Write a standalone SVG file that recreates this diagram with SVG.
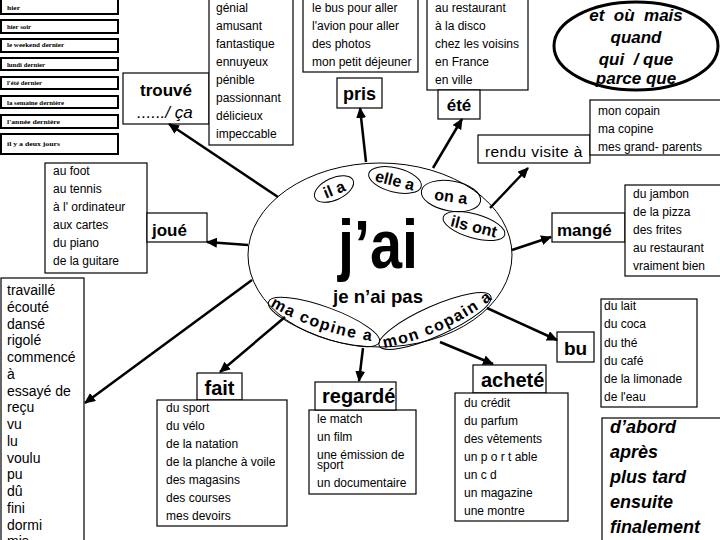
<svg xmlns="http://www.w3.org/2000/svg" width="720" height="540" viewBox="0 0 720 540">
<defs>
<marker id="ah" markerUnits="userSpaceOnUse" markerWidth="12" markerHeight="10" refX="10" refY="5" orient="auto">
<path d="M0,0 L11,5 L0,10 Z" fill="#000"/>
</marker>
<style>
.box{fill:#fff;stroke:#000;stroke-width:1.2}
.row{fill:#fff;stroke:#000;stroke-width:2}
.t{font-family:"Liberation Sans",Arial,sans-serif;font-size:12px;fill:#000}
.tm{font-family:"Liberation Sans",Arial,sans-serif;font-size:14px;fill:#000}
.lb{font-family:"Liberation Sans",Arial,sans-serif;font-weight:bold;font-size:18px;fill:#000}
.bi{font-family:"Liberation Sans",Arial,sans-serif;font-weight:bold;font-style:italic;font-size:18px;fill:#000}
.tiny{font-family:"Liberation Serif","Times New Roman",serif;font-weight:bold;font-size:6px;fill:#000}
.sub{font-family:"Liberation Sans",Arial,sans-serif;font-weight:bold;font-size:16px;fill:#000}
.el{fill:none;stroke:#000;stroke-width:1}
.con{stroke:#000;stroke-width:2.5;fill:none;marker-end:url(#ah)}
</style>
</defs>
<rect width="720" height="540" fill="#fff"/>

<g id="time-list">
<rect class="row" x="1" y="-2" width="117" height="16"/>
<rect class="row" x="1" y="20" width="117" height="13"/>
<rect class="row" x="1" y="39" width="117" height="13"/>
<rect class="row" x="1" y="58" width="117" height="12"/>
<rect class="row" x="1" y="77" width="117" height="12"/>
<rect class="row" x="1" y="96" width="117" height="12"/>
<rect class="row" x="1" y="115" width="117" height="13"/>
<rect class="row" x="1" y="134" width="117" height="20"/>
<text class="tiny" x="7" y="10" textLength="13" lengthAdjust="spacingAndGlyphs">hier</text>
<text class="tiny" x="7" y="29" textLength="24" lengthAdjust="spacingAndGlyphs">hier soir</text>
<text class="tiny" x="7" y="47" textLength="57" lengthAdjust="spacingAndGlyphs">le weekend dernier</text>
<text class="tiny" x="7" y="67" textLength="38" lengthAdjust="spacingAndGlyphs">lundi dernier</text>
<text class="tiny" x="7" y="85" textLength="35" lengthAdjust="spacingAndGlyphs">l'été dernier</text>
<text class="tiny" x="7" y="105" textLength="57" lengthAdjust="spacingAndGlyphs">la semaine dernière</text>
<text class="tiny" x="7" y="124" textLength="53" lengthAdjust="spacingAndGlyphs">l'année dernière</text>
<text class="tiny" x="7" y="146" textLength="53" lengthAdjust="spacingAndGlyphs">il  y  a deux jours</text>
</g>

<g id="trouve">
<rect class="box" x="123" y="73" width="86" height="51"/>
<text class="lb" x="140" y="96" style="font-size:17px">trouvé</text>
<text x="137" y="118" style="font-family:'Liberation Sans',Arial,sans-serif;font-style:italic;font-size:17px">....../ ça</text>
</g>

<g id="adjectifs">
<rect class="box" x="209" y="-2" width="84" height="147"/>
<text class="t" x="216" y="12">génial</text>
<text class="t" x="216" y="30">amusant</text>
<text class="t" x="216" y="48">fantastique</text>
<text class="t" x="216" y="66">ennuyeux</text>
<text class="t" x="216" y="84">pénible</text>
<text class="t" x="216" y="102">passionnant</text>
<text class="t" x="216" y="120">délicieux</text>
<text class="t" x="216" y="138">impeccable</text>
</g>

<g id="pris-list">
<rect class="box" x="303" y="-2" width="115" height="74"/>
<text class="t" x="312" y="12">le bus pour aller</text>
<text class="t" x="312" y="30">l'avion pour aller</text>
<text class="t" x="312" y="48">des photos</text>
<text class="t" x="312" y="66">mon petit  déjeuner</text>
</g>

<g id="pris">
<rect class="box" x="337" y="78" width="45" height="30"/>
<text class="lb" x="359.5" y="100" text-anchor="middle">pris</text>
</g>

<g id="ete-list">
<rect class="box" x="427" y="-2" width="101" height="92"/>
<text class="t" x="435" y="12">au restaurant</text>
<text class="t" x="435" y="30">à la disco</text>
<text class="t" x="435" y="48">chez les voisins</text>
<text class="t" x="435" y="66">en France</text>
<text class="t" x="435" y="84">en ville</text>
</g>

<g id="ete">
<rect class="box" x="438" y="90" width="42" height="29"/>
<text class="lb" x="459" y="111" text-anchor="middle" style="font-size:17px">été</text>
</g>

<g id="connecteurs">
<ellipse cx="636" cy="46" rx="82" ry="44" fill="#fff" stroke="#000" stroke-width="3"/>
<text class="bi" x="636" y="21" text-anchor="middle" style="font-size:17px">et&#160; où&#160; mais</text>
<text class="bi" x="636" y="43" text-anchor="middle" style="font-size:17px">quand</text>
<text class="bi" x="636" y="65" text-anchor="middle" style="font-size:17px">qui&#160; / que</text>
<text class="bi" x="636" y="84" text-anchor="middle" style="font-size:17px">parce que</text>
</g>

<g id="rendu">
<rect class="box" x="478" y="135" width="112" height="28"/>
<text x="485" y="157" style="font-family:'Liberation Sans',Arial,sans-serif;font-size:15.5px;letter-spacing:0.4px">rendu visite à</text>
</g>

<g id="rendu-list">
<rect class="box" x="590" y="100" width="135" height="55"/>
<text class="t" x="598" y="115">mon copain</text>
<text class="t" x="598" y="133">ma copine</text>
<text class="t" x="598" y="151">mes grand- parents</text>
</g>

<g id="joue-list">
<rect class="box" x="45" y="163" width="102" height="110"/>
<text class="t" x="53" y="175">au foot</text>
<text class="t" x="53" y="193">au tennis</text>
<text class="t" x="53" y="211">à  l' ordinateur</text>
<text class="t" x="53" y="229">aux cartes</text>
<text class="t" x="53" y="247">du piano</text>
<text class="t" x="53" y="265">de la guitare</text>
</g>

<g id="joue">
<rect class="box" x="147" y="213" width="60" height="29"/>
<text class="lb" x="152" y="236" style="font-size:17px">joué</text>
</g>

<g id="mange">
<rect class="box" x="552" y="213" width="73" height="29"/>
<text class="lb" x="557" y="236" style="font-size:17px">mangé</text>
</g>

<g id="mange-list">
<rect class="box" x="625" y="185" width="97" height="91"/>
<text class="t" x="633" y="198">du jambon</text>
<text class="t" x="633" y="216">de  la pizza</text>
<text class="t" x="633" y="234">des frites</text>
<text class="t" x="633" y="252">au restaurant</text>
<text class="t" x="633" y="270">vraiment bien</text>
</g>

<g id="bu-list">
<rect class="box" x="601" y="299" width="96" height="108"/>
<text class="t" x="604" y="310">du lait</text>
<text class="t" x="604" y="328">du coca</text>
<text class="t" x="604" y="347">du thé</text>
<text class="t" x="604" y="365">du café</text>
<text class="t" x="604" y="383">de la limonade</text>
<text class="t" x="604" y="401">de l'eau</text>
</g>

<g id="bu">
<rect class="box" x="557" y="332" width="37" height="30"/>
<text class="lb" x="575.5" y="355" text-anchor="middle" style="font-size:19px">bu</text>
</g>

<g id="participes">
<rect class="box" x="1" y="278" width="83" height="270"/>
<text class="tm" x="7" y="295">travaillé</text>
<text class="tm" x="7" y="311.75">écouté</text>
<text class="tm" x="7" y="328.5">dansé</text>
<text class="tm" x="7" y="345.25">rigolé</text>
<text class="tm" x="7" y="362">commencé</text>
<text class="tm" x="7" y="378.75">à</text>
<text class="tm" x="7" y="395.5">essayé de</text>
<text class="tm" x="7" y="412.25">reçu</text>
<text class="tm" x="7" y="429">vu</text>
<text class="tm" x="7" y="445.75">lu</text>
<text class="tm" x="7" y="462.5">voulu</text>
<text class="tm" x="7" y="479.25">pu</text>
<text class="tm" x="7" y="496">dû</text>
<text class="tm" x="7" y="512.75">fini</text>
<text class="tm" x="7" y="529.5">dormi</text>
<text class="tm" x="7" y="546.25">mis</text>
</g>

<g id="fait">
<rect class="box" x="197" y="373" width="45" height="27"/>
<text class="lb" x="219.5" y="395" text-anchor="middle" style="font-size:20px">fait</text>
</g>

<g id="fait-list">
<rect class="box" x="157" y="400" width="130" height="126"/>
<text class="t" x="166" y="412">du sport</text>
<text class="t" x="166" y="430">du vélo</text>
<text class="t" x="166" y="448">de la natation</text>
<text class="t" x="166" y="466">de la planche à voile</text>
<text class="t" x="166" y="484">des magasins</text>
<text class="t" x="166" y="502">des courses</text>
<text class="t" x="166" y="520">mes devoirs</text>
</g>

<g id="regarde-list">
<rect class="box" x="309" y="410" width="107" height="84"/>
<text class="t" x="317" y="423">le match</text>
<text class="t" x="317" y="441">un film</text>
<text class="t" x="317" y="459">une émission de</text>
<text class="t" x="317" y="469">sport</text>
<text class="t" x="317" y="487">un documentaire</text>
</g>

<g id="regarde">
<rect class="box" x="315" y="382" width="81" height="28"/>
<text class="lb" x="322" y="403" style="font-size:20px">regardé</text>
</g>

<g id="achete">
<rect class="box" x="473" y="365" width="73" height="28"/>
<text class="lb" x="481" y="387" style="font-size:20px">acheté</text>
</g>

<g id="achete-list">
<rect class="box" x="455" y="393" width="113" height="128"/>
<text class="t" x="464" y="407">du  crédit</text>
<text class="t" x="464" y="425">du parfum</text>
<text class="t" x="464" y="443">des vêtements</text>
<text class="t" x="464" y="461">un p o r t able</text>
<text class="t" x="464" y="479">un c d</text>
<text class="t" x="464" y="497">un magazine</text>
<text class="t" x="464" y="515">une montre</text>
</g>

<g id="sequence">
<rect class="box" x="602" y="418" width="125" height="130"/>
<text class="bi" x="610" y="433">d’abord</text>
<text class="bi" x="610" y="458">après</text>
<text class="bi" x="610" y="483">plus tard</text>
<text class="bi" x="610" y="508">ensuite</text>
<text class="bi" x="610" y="533">finalement</text>
</g>

<g id="connectors">
<path class="con" d="M278 197 L169 124"/>
<path class="con" d="M366 162 L360 108"/>
<path class="con" d="M433 168 L462 119"/>
<path class="con" d="M490 208 L528 168"/>
<path class="con" d="M512 250 L551 237"/>
<path class="con" d="M248 245 L207 242"/>
<path class="con" d="M252 280 L85 403"/>
<path class="con" d="M285 317 L220 372"/>
<path class="con" d="M363 348 L359 381"/>
<path class="con" d="M440 342 L493 364"/>
<path class="con" d="M487 308 L557 340"/>
</g>

<g id="jai">
<ellipse class="el" cx="380" cy="255" rx="132" ry="92" fill="#fff"/>
<ellipse class="el" cx="334" cy="189" rx="21" ry="11" transform="rotate(-25 334 189)"/>
<text class="sub" x="334" y="195" text-anchor="middle" transform="rotate(-22 334 189)">il a</text>
<ellipse class="el" cx="395" cy="180" rx="27" ry="12" transform="rotate(14 395 180)"/>
<text class="sub" x="395" y="186" text-anchor="middle" transform="rotate(14 395 180)">elle a</text>
<ellipse class="el" cx="451" cy="196" rx="30" ry="15" transform="rotate(10 451 196)"/>
<text class="sub" x="451" y="202" text-anchor="middle" transform="rotate(8 451 196)">on a</text>
<ellipse class="el" cx="474" cy="226" rx="32" ry="12" transform="rotate(16 474 226)"/>
<text class="sub" x="474" y="232" text-anchor="middle" transform="rotate(14 474 226)">ils ont</text>
<ellipse class="el" cx="324" cy="322" rx="59" ry="15" transform="rotate(20 324 322)"/>
<ellipse class="el" cx="435" cy="321" rx="61" ry="15" transform="rotate(-24 435 321)"/>
<path id="p1" d="M270 306 Q 318 334 378 342" fill="none"/>
<path id="p2" d="M384 348 Q 444 336 494 298" fill="none"/>
<text class="sub" style="letter-spacing:1.5px"><textPath href="#p1">ma copine a</textPath></text>
<text class="sub" style="letter-spacing:1.5px"><textPath href="#p2">mon copain a</textPath></text>
<text x="338" y="268" textLength="80" lengthAdjust="spacingAndGlyphs" style="font-family:'Liberation Sans',Arial,sans-serif;font-weight:bold;font-size:68px">j’ai</text>
<text x="333" y="303" textLength="90" lengthAdjust="spacingAndGlyphs" style="font-family:'Liberation Sans',Arial,sans-serif;font-weight:bold;font-size:19px">je n’ai pas</text>
</g>
</svg>
